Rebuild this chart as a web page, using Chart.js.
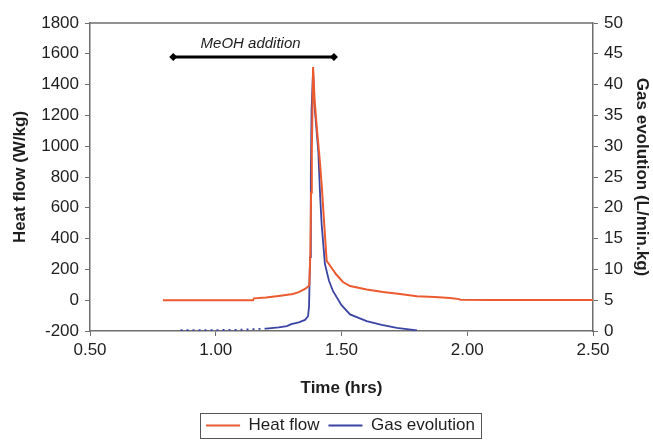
<!DOCTYPE html>
<html>
<head>
<meta charset="utf-8">
<script src="https://cdn.jsdelivr.net/npm/chart.js@4"></script>
<style>
  html, body { margin: 0; padding: 0; background: #fff; }
  #wrap { width: 653px; height: 440px; }
</style>
</head>
<body>
<div id="wrap"><canvas id="heatChart" width="653" height="440"></canvas></div>
<script>
// heat flow (W/kg), left axis
const heatTime = [0.79, 1.00, 1.148, 1.152, 1.20, 1.25, 1.307, 1.33, 1.355, 1.372, 1.376, 1.379, 1.382, 1.387, 1.393, 1.403, 1.413, 1.421, 1.431, 1.441, 1.450, 1.461, 1.480, 1.506, 1.534, 1.600, 1.665, 1.733, 1.800, 1.870, 1.931, 1.968, 1.972, 2.10, 2.50];
const heatFlow = [0, 0, 0, 12, 18, 28, 40, 52, 73, 95, 300, 700, 970, 1514, 1300, 1100, 920, 755, 500, 255, 235, 209, 165, 118, 92, 70, 53, 40, 26, 21, 15, 7, 3, 2, 2];

// gas evolution (L/min.kg), right axis
const gasTime = [0.86, 1.00, 1.10, 1.15, 1.20, 1.25, 1.283, 1.30, 1.33, 1.355, 1.367, 1.371, 1.375, 1.378, 1.381, 1.387, 1.392, 1.400, 1.408, 1.415, 1.421, 1.434, 1.450, 1.466, 1.50, 1.534, 1.60, 1.66, 1.72, 1.76, 1.80];
const gasRate = [0.15, 0.15, 0.2, 0.3, 0.4, 0.6, 0.8, 1.1, 1.4, 1.8, 2.4, 4, 12, 25, 36, 42.2, 37, 33, 29, 22, 17.4, 10.9, 8.2, 6.5, 4.2, 2.7, 1.6, 1.0, 0.5, 0.3, 0.1];

// MeOH addition bracket
const meohTime = [0.831, 1.470];
const meohLevel = [1580, 1580];
const meohLabel = 'MeOH addition';

const xTicks = [0.5, 1.0, 1.5, 2.0, 2.5];

const toXY = (xs, ys) => xs.map((x, i) => ({x: x, y: ys[i]}));

const FONT = "'Liberation Sans', Arial, sans-serif";
const INK = '#1e1e1e';
const AXIS = '#6e6e6e';

const ctx = document.getElementById('heatChart').getContext('2d');

new Chart(ctx, {
    type: 'line',
    data: {
        datasets: [
            {
                label: 'Heat flow',
                data: toXY(heatTime, heatFlow),
                borderColor: '#ec5a30',
                backgroundColor: '#ec5a30',
                borderWidth: 2,
                pointRadius: 0,
                tension: 0,
                yAxisID: 'y'
            },
            {
                label: 'Gas evolution',
                data: toXY(gasTime, gasRate),
                borderColor: '#3a44a3',
                backgroundColor: '#3a44a3',
                borderWidth: 1.8,
                pointRadius: 0,
                tension: 0,
                yAxisID: 'y2',
                segment: {
                    borderDash: c => c.p1.parsed.x <= 1.2 ? [2, 4] : undefined
                }
            },
            {
                label: meohLabel,
                data: toXY(meohTime, meohLevel),
                borderColor: '#000',
                backgroundColor: '#000',
                borderWidth: 3,
                pointStyle: 'rectRot',
                pointRadius: 4,
                pointBorderWidth: 0,
                yAxisID: 'y'
            }
        ]
    },
    options: {
        responsive: false,
        animation: false,
        layout: { padding: { top: 23, bottom: 2, left: 0, right: 0 } },
        plugins: {
            legend: {
                position: 'bottom',
                labels: {
                    filter: item => item.text !== meohLabel,
                    usePointStyle: true,
                    pointStyle: 'line',
                    pointStyleWidth: 34,
                    boxHeight: 17,
                    padding: 9,
                    color: INK,
                    font: { family: FONT, size: 17 }
                }
            },
            tooltip: { enabled: false }
        },
        scales: {
            x: {
                type: 'linear',
                min: 0.5,
                max: 2.5,
                afterBuildTicks: s => { s.ticks = xTicks.map(v => ({value: v})); },
                afterFit: s => { s.height = 71; },
                ticks: {
                    callback: v => v.toFixed(2),
                    color: INK,
                    padding: 4,
                    font: { family: FONT, size: 17 }
                },
                grid: { drawOnChartArea: false, tickLength: 5, color: AXIS },
                border: { color: AXIS, width: 1.5 },
                title: {
                    display: true,
                    text: 'Time (hrs)',
                    color: INK,
                    padding: { top: 0, bottom: 3 },
                    font: { family: FONT, size: 17, weight: 'bold' }
                }
            },
            y: {
                position: 'left',
                min: -200,
                max: 1800,
                afterFit: s => { s.width = 90; },
                ticks: {
                    stepSize: 200,
                    callback: v => String(v),
                    color: INK,
                    padding: 6,
                    font: { family: FONT, size: 17 }
                },
                grid: { drawOnChartArea: false, tickLength: 5, color: AXIS },
                border: { color: AXIS, width: 1.5 },
                title: {
                    display: true,
                    text: 'Heat flow (W/kg)',
                    color: INK,
                    padding: { top: 10, bottom: 0 },
                    font: { family: FONT, size: 17, weight: 'bold' }
                }
            },
            y2: {
                position: 'right',
                min: 0,
                max: 50,
                afterFit: s => { s.width = 60; },
                ticks: {
                    stepSize: 5,
                    callback: v => String(v),
                    color: INK,
                    padding: 6,
                    font: { family: FONT, size: 17 }
                },
                grid: { drawOnChartArea: false, tickLength: 5, color: AXIS },
                border: { color: AXIS, width: 1.5 },
                title: {
                    display: true,
                    text: 'Gas evolution (L/min.kg)',
                    color: INK,
                    padding: { top: 1, bottom: 0 },
                    font: { family: FONT, size: 17, weight: 'bold' }
                }
            }
        }
    },
    plugins: [{
        id: 'frameAndNotes',
        afterUpdate(chart) {
            // nudge the legend to where the original sits
            const lg = chart.legend;
            if (!lg) return;
            const dx = 14, dy = 6;
            lg.left += dx; lg.right += dx;
            lg.top += dy; lg.bottom += dy;
            (lg.legendHitBoxes || []).forEach(b => { b.left += dx; b.top += dy; });
        },
        afterDraw(chart) {
            const {ctx, chartArea, scales, legend} = chart;
            ctx.save();
            // top edge of the plot box
            ctx.strokeStyle = AXIS;
            ctx.lineWidth = 1.5;
            ctx.beginPath();
            ctx.moveTo(chartArea.left, chartArea.top);
            ctx.lineTo(chartArea.right, chartArea.top);
            ctx.stroke();

            // label over the bracket
            const mx = scales.x.getPixelForValue((meohTime[0] + meohTime[1]) / 2);
            const my = scales.y.getPixelForValue(meohLevel[0]);
            ctx.font = 'italic 15px ' + FONT;
            ctx.fillStyle = INK;
            ctx.textAlign = 'center';
            ctx.textBaseline = 'middle';
            ctx.fillText(meohLabel, mx - 3, my - 13);

            // frame around legend
            const hb = legend.legendHitBoxes;
            if (hb && hb.length) {
                const l = Math.min(...hb.map(b => b.left)) - 6;
                const r = Math.max(...hb.map(b => b.left + b.width)) + 6;
                const t = Math.min(...hb.map(b => b.top)) - 4;
                const b = Math.max(...hb.map(b => b.top + b.height)) + 4;
                ctx.strokeStyle = '#555';
                ctx.lineWidth = 1;
                ctx.strokeRect(Math.round(l) + 0.5, Math.round(t) + 0.5, Math.round(r - l), Math.round(b - t));
            }
            ctx.restore();
        }
    }]
});
</script>
</body>
</html>
